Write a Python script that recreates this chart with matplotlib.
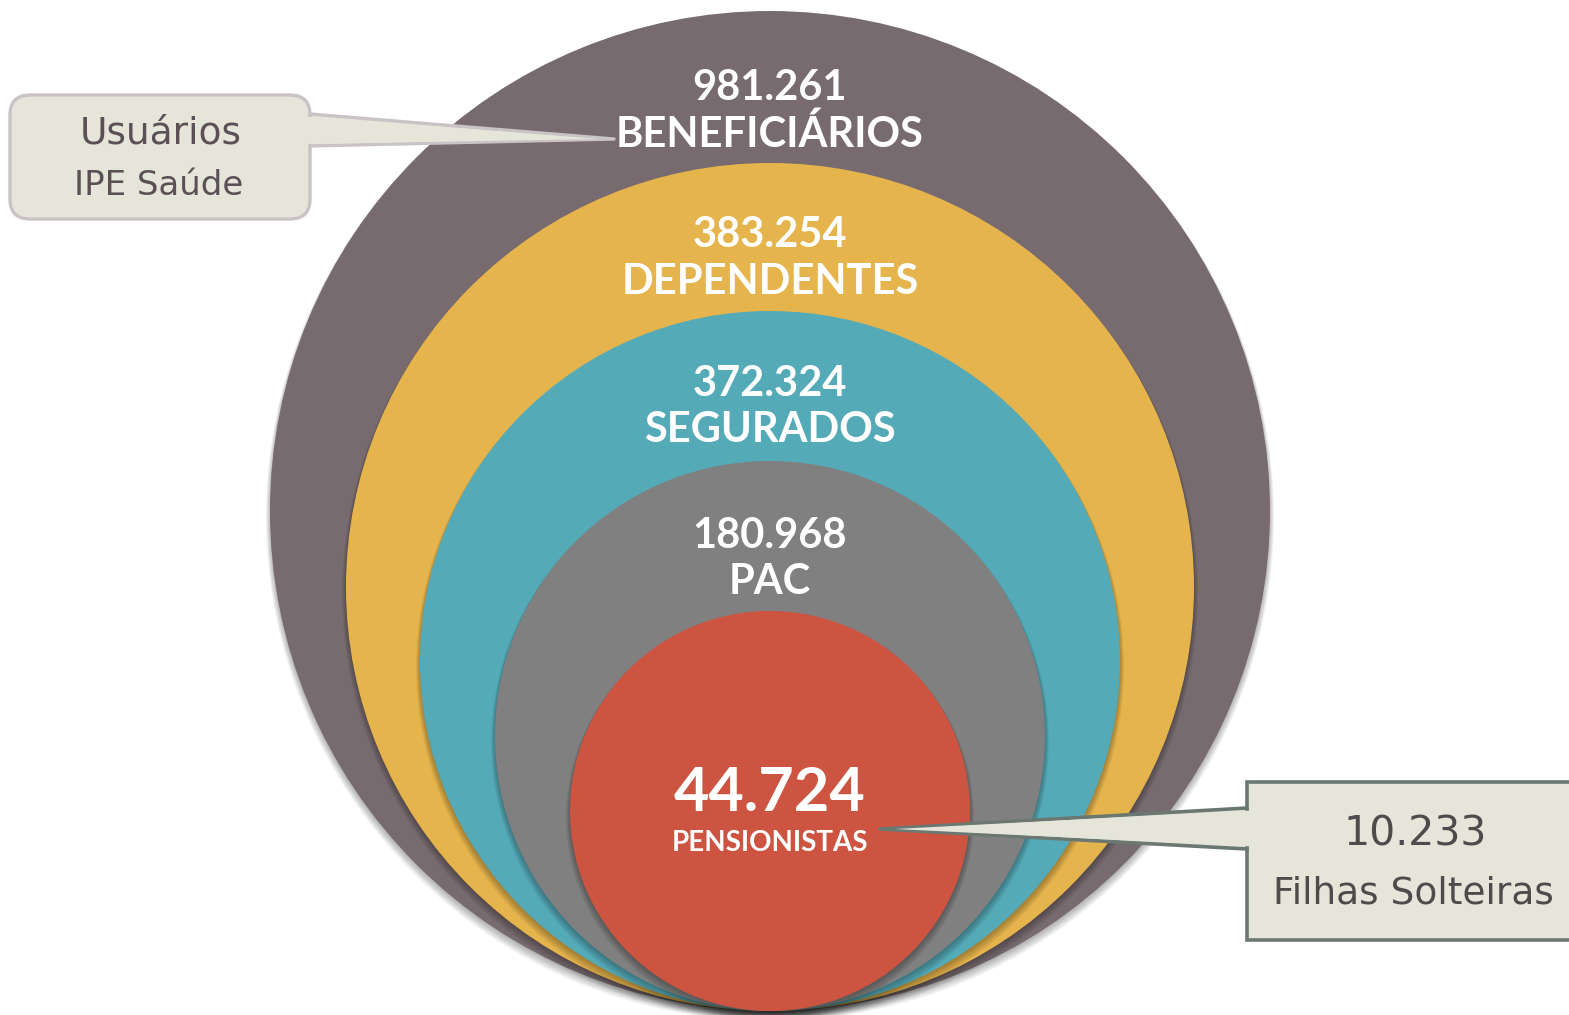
import matplotlib
matplotlib.use("Agg")
import matplotlib.pyplot as plt
from matplotlib.patches import Circle, FancyBboxPatch, Polygon, Rectangle

plt.rcParams['font.family'] = ['Lato', 'DejaVu Sans']

# ---- data ----
values = ["981.261", "383.254", "372.324", "180.968", "44.724"]
labels = ["BENEFICIÁRIOS", "DEPENDENTES", "SEGURADOS", "PAC", "PENSIONISTAS"]
colors = ["#786b6f", "#e6b44c", "#55aab8", "#808080", "#cd5440"]
callout_left = ["Usuários", "IPE Saúde"]
callout_right = ["10.233", "Filhas Solteiras"]

# ---- layout ----
W, H = 1569, 1015
cx = 770
bottom = 1011
radii = [500, 424, 350, 275, 200]
value_y = [88, 235, 384, 536, 793]
label_y = [134, 282, 430, 582, 843]
value_fs = [30, 30, 30, 30, 44]
label_fs = [30, 30, 30, 30, 20]

fig = plt.figure(figsize=(W / 100, H / 100), dpi=100)
ax = fig.add_axes([0, 0, 1, 1])
ax.set_xlim(0, W)
ax.set_ylim(H, 0)
ax.axis('off')

for i, (r, c) in enumerate(zip(radii, colors)):
    cy = bottom - r
    # soft shadow
    for k in range(6):
        ax.add_patch(Circle((cx, cy + 2 + k * 0.8), r + k * 0.8, color='black',
                            alpha=0.05, lw=0, zorder=2 * i))
    ax.add_patch(Circle((cx, cy), r, color=c, lw=0, zorder=2 * i + 1))

for i in range(len(values)):
    ax.text(cx, value_y[i], values[i], color='white', fontsize=value_fs[i],
            fontweight='bold', ha='center', va='center', zorder=20)
    ax.text(cx, label_y[i], labels[i], color='white', fontsize=label_fs[i],
            fontweight='bold', ha='center', va='center', zorder=20)

cfont = ['DejaVu Sans']
# ---- left callout ----
lfill, ledge = "#e6e5da", "#c9c3c6"
box = FancyBboxPatch((10, 95), 300, 124, boxstyle="round,pad=0,rounding_size=20",
                     fc=lfill, ec=ledge, lw=2.4, zorder=30)
ax.add_patch(box)
ax.add_patch(Polygon([(310, 114), (614, 139), (310, 146)], closed=True,
                     fc=lfill, ec=ledge, lw=2.4, joinstyle='round', zorder=30))
ax.add_patch(Polygon([(305, 116.5), (600, 139), (305, 144)], closed=True,
                     fc=lfill, ec='none', lw=0, zorder=31))
ax.text(161, 133, callout_left[0], color="#5a5055", fontsize=27, family=cfont,
        ha='center', va='center', zorder=32)
ax.text(159, 185, callout_left[1], color="#5a5055", fontsize=24.5, family=cfont,
        ha='center', va='center', zorder=32)

# ---- right callout ----
rfill, redge = "#e6e5da", "#6b7872"
ax.add_patch(Rectangle((1247, 782), 340, 158, fc=rfill, ec=redge, lw=2.6, zorder=30))
ax.add_patch(Polygon([(1247, 808), (880, 829), (1247, 849)], closed=True,
                     fc=rfill, ec=redge, lw=2.6, joinstyle='round', zorder=30))
ax.add_patch(Polygon([(1252, 810.5), (895, 829), (1252, 846.5)], closed=True,
                     fc=rfill, ec='none', lw=0, zorder=31))
ax.text(1415, 835, callout_right[0], color="#4f4a4c", fontsize=29.5, family=cfont,
        ha='center', va='center', zorder=32)
ax.text(1413, 893, callout_right[1], color="#4f4a4c", fontsize=27, family=cfont,
        ha='center', va='center', zorder=32)

fig.savefig("out.png", dpi=100, facecolor='white')
